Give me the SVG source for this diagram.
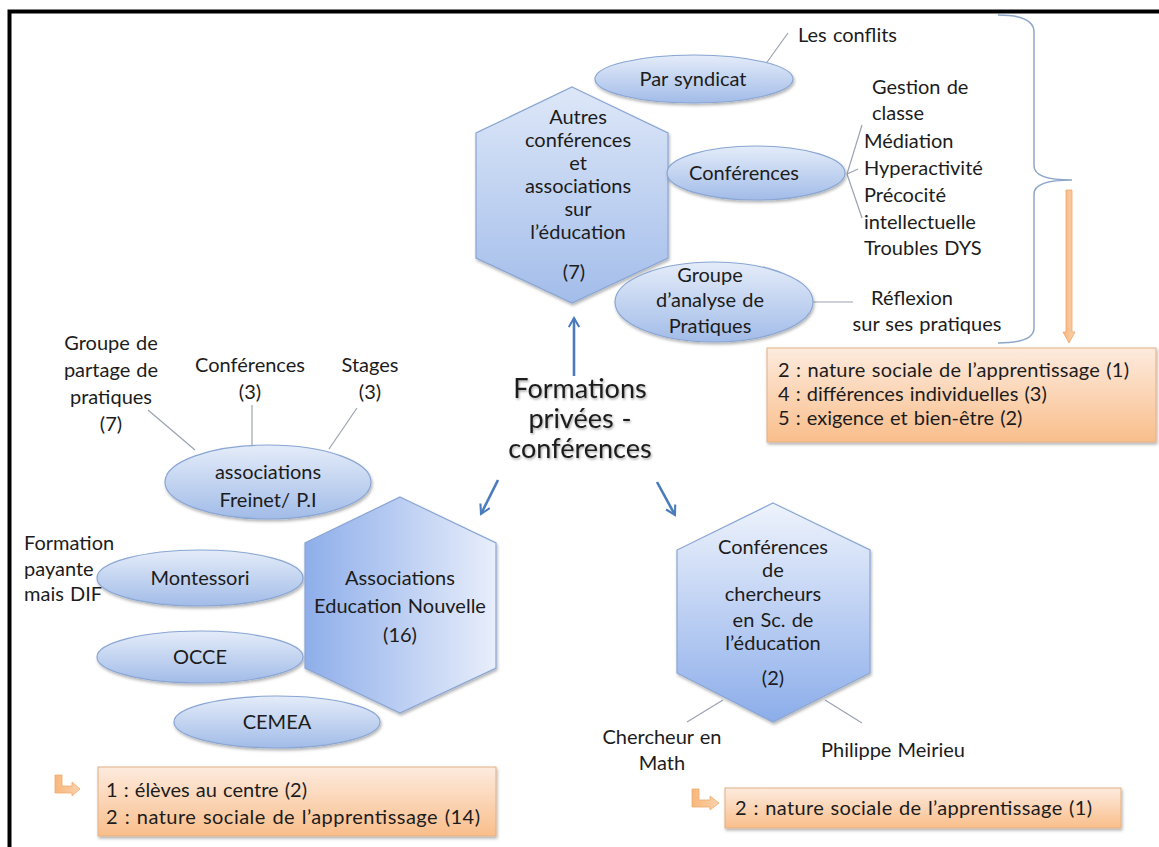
<svg xmlns="http://www.w3.org/2000/svg" width="1159" height="847" viewBox="0 0 1159 847">
<defs>
<linearGradient id="gEll" x1="0" y1="0" x2="0" y2="1">
<stop offset="0" stop-color="#e4ecf9"/><stop offset="1" stop-color="#a2bce8"/>
</linearGradient>
<linearGradient id="gHexV" x1="0" y1="0" x2="0" y2="1">
<stop offset="0" stop-color="#dde7f8"/><stop offset="1" stop-color="#a3bdea"/>
</linearGradient>
<linearGradient id="gHex3" x1="0" y1="0" x2="0" y2="1">
<stop offset="0" stop-color="#eef3fc"/><stop offset="1" stop-color="#8cadea"/>
</linearGradient>
<linearGradient id="gHexH" x1="0" y1="0" x2="1" y2="0">
<stop offset="0" stop-color="#8eaeea"/><stop offset="1" stop-color="#e8eefb"/>
</linearGradient>
<linearGradient id="gOr" x1="0" y1="0" x2="0" y2="1">
<stop offset="0" stop-color="#fdebde"/><stop offset="1" stop-color="#f9be8b"/>
</linearGradient>
<linearGradient id="gOrA" x1="0" y1="0" x2="1" y2="0">
<stop offset="0" stop-color="#f7b77c"/><stop offset="1" stop-color="#fbd2ac"/>
</linearGradient>
<filter id="sh" x="-10%" y="-10%" width="125%" height="130%">
<feDropShadow dx="1" dy="2" stdDeviation="1.5" flood-color="#000" flood-opacity="0.3"/>
</filter>
<filter id="tsh" x="-10%" y="-10%" width="120%" height="130%">
<feDropShadow dx="1" dy="1.5" stdDeviation="1" flood-color="#000" flood-opacity="0.35"/>
</filter>
<marker id="ah" viewBox="0 0 10 10" refX="8" refY="5" markerWidth="5" markerHeight="5" orient="auto" markerUnits="strokeWidth">
<path d="M1,1 L8,5 L1,9" fill="none" stroke="#4a7cbc" stroke-width="1.6"/>
</marker>
<style>
text{font-family:Lato,"Liberation Sans",sans-serif;font-size:20px;fill:#1c1c1c;word-spacing:1px}
.c{text-anchor:middle}
.big{font-size:27px}
.ell{fill:url(#gEll);stroke:#8aa6d4;stroke-width:1.2;filter:url(#sh)}
.hex{stroke:#8aa6d4;stroke-width:1.2;filter:url(#sh)}
.ln{stroke:#9aa3b3;stroke-width:1.2;fill:none}
.arr{stroke:#4a7cbc;stroke-width:2.6;fill:none;marker-end:url(#ah)}
.ob{fill:url(#gOr);stroke:#e2b083;stroke-width:1;filter:url(#sh)}
.oa{fill:url(#gOrA);stroke:#f0aa6c;stroke-width:0.8}
</style>
</defs>
<rect width="1159" height="847" fill="#ffffff"/>
<rect x="9.5" y="11.5" width="1200" height="900" fill="none" stroke="#000" stroke-width="4"/>

<g id="connectors">
<line class="ln" x1="765" y1="65" x2="788" y2="33"/>
<line class="ln" x1="847" y1="174" x2="862" y2="125"/>
<line class="ln" x1="847" y1="174" x2="858" y2="169"/>
<line class="ln" x1="847" y1="174" x2="862" y2="218"/>
<line class="ln" x1="813" y1="302" x2="853" y2="302"/>
<line class="ln" x1="148" y1="410" x2="195" y2="450"/>
<line class="ln" x1="252" y1="405" x2="252" y2="447"/>
<line class="ln" x1="357" y1="408" x2="329" y2="449"/>
<line class="ln" x1="723" y1="700" x2="687" y2="722"/>
<line class="ln" x1="825" y1="700" x2="862" y2="723"/>
<line class="arr" x1="574" y1="376" x2="574" y2="318"/>
<line class="arr" x1="498" y1="480" x2="481" y2="514"/>
<line class="arr" x1="657" y1="482" x2="675" y2="515"/>
<path d="M998,15 Q1034,15 1034,32 L1034,166 Q1034,180 1072,180 Q1034,180 1034,194 L1034,328 Q1034,343 998,343" fill="none" stroke="#8ea6c9" stroke-width="1.5"/>
<path d="M1066,190 L1072,190 L1072,332 L1075,332 L1069,343 L1063,332 L1066,332 Z" fill="url(#gOrA)" stroke="#eea56a" stroke-width="0.8"/>
</g>

<g id="n-autres">
<polygon class="hex" fill="url(#gHexV)" points="572,87 668,133 668,258 572,303 476,258 476,133"/>
<text class="c" x="578" y="124">Autres</text>
<text class="c" x="578" y="147">conférences</text>
<text class="c" x="578" y="170">et</text>
<text class="c" x="578" y="193">associations</text>
<text class="c" x="578" y="216">sur</text>
<text class="c" x="578" y="239">l’éducation</text>
<text class="c" x="574" y="279">(7)</text>
</g>

<g id="n-syndicat">
<ellipse class="ell" cx="694" cy="79" rx="99" ry="24"/>
<text class="c" x="693" y="86">Par syndicat</text>
</g>
<g id="n-conflits"><text x="798" y="42">Les conflits</text></g>

<g id="n-conferences">
<ellipse class="ell" cx="756" cy="173" rx="89" ry="27"/>
<text class="c" x="744" y="180">Conférences</text>
</g>
<g id="n-themes">
<text x="872" y="94">Gestion de</text>
<text x="872" y="120">classe</text>
<text x="864" y="148">Médiation</text>
<text x="864" y="175">Hyperactivité</text>
<text x="864" y="202">Précocité</text>
<text x="864" y="229">intellectuelle</text>
<text x="864" y="255">Troubles DYS</text>
</g>

<g id="n-groupe">
<ellipse class="ell" cx="714" cy="302" rx="99" ry="40"/>
<text class="c" x="710" y="282">Groupe</text>
<text class="c" x="710" y="307">d’analyse de</text>
<text class="c" x="710" y="333">Pratiques</text>
</g>
<g id="n-reflexion">
<text class="c" x="912" y="305">Réflexion</text>
<text class="c" x="927" y="331">sur ses pratiques</text>
</g>

<g id="n-res-top">
<rect class="ob" x="767" y="348" width="389" height="94"/>
<text x="778" y="377" textLength="351" lengthAdjust="spacing">2 : nature sociale de l’apprentissage (1)</text>
<text x="778" y="401">4 : différences individuelles (3)</text>
<text x="778" y="425">5 : exigence et bien-être (2)</text>
</g>

<g id="n-center" filter="url(#tsh)">
<text class="c big" x="580" y="398">Formations</text>
<text class="c big" x="580" y="428">privées -</text>
<text class="c big" x="580" y="458">conférences</text>
</g>

<g id="n-freinet-subs">
<text class="c" x="111" y="350">Groupe de</text>
<text class="c" x="111" y="377">partage de</text>
<text class="c" x="111" y="404">pratiques</text>
<text class="c" x="111" y="431">(7)</text>
<text class="c" x="250" y="372">Conférences</text>
<text class="c" x="250" y="399">(3)</text>
<text class="c" x="370" y="372">Stages</text>
<text class="c" x="370" y="399">(3)</text>
</g>

<g id="n-freinet">
<ellipse class="ell" cx="268" cy="482" rx="103" ry="37"/>
<text class="c" x="268" y="479">associations</text>
<text class="c" x="268" y="507">Freinet/ P.I</text>
</g>

<g id="n-formation-payante">
<text x="24" y="550">Formation</text>
<text x="24" y="576">payante</text>
<text x="24" y="601">mais DIF</text>
</g>

<g id="n-montessori">
<ellipse class="ell" cx="200" cy="578" rx="103" ry="28"/>
<text class="c" x="200" y="585">Montessori</text>
</g>
<g id="n-occe">
<ellipse class="ell" cx="200" cy="657" rx="103" ry="26"/>
<text class="c" x="200" y="664">OCCE</text>
</g>
<g id="n-cemea">
<ellipse class="ell" cx="277" cy="722" rx="103" ry="26"/>
<text class="c" x="277" y="729">CEMEA</text>
</g>

<g id="n-education-nouvelle">
<polygon class="hex" fill="url(#gHexH)" points="400,497 496,543 496,668 400,713 305,668 305,543"/>
<text class="c" x="400" y="585">Associations</text>
<text class="c" x="400" y="613">Education Nouvelle</text>
<text class="c" x="400" y="642">(16)</text>
</g>

<g id="n-res-left">
<polygon class="oa" points="55,775 62,775 62,786 72,786 72,782 80,789 72,796 72,793 55,793"/>
<rect class="ob" x="98" y="767" width="398" height="69"/>
<text x="106" y="797">1 : élèves au centre (2)</text>
<text x="106" y="824" textLength="374" lengthAdjust="spacing">2 : nature sociale de l’apprentissage (14)</text>
</g>

<g id="n-chercheurs">
<polygon class="hex" fill="url(#gHex3)" points="773,503 870,550 870,673 773,722 677,673 677,550"/>
<text class="c" x="773" y="554">Conférences</text>
<text class="c" x="773" y="577">de</text>
<text class="c" x="773" y="601">chercheurs</text>
<text class="c" x="773" y="627">en Sc. de</text>
<text class="c" x="773" y="650">l’éducation</text>
<text class="c" x="773" y="685">(2)</text>
</g>
<g id="n-math">
<text class="c" x="662" y="744">Chercheur en</text>
<text class="c" x="662" y="770">Math</text>
</g>
<g id="n-meirieu"><text class="c" x="893" y="757">Philippe Meirieu</text></g>

<g id="n-res-right">
<polygon class="oa" points="692,789 699,789 699,800 710,800 710,796 719,803 710,810 710,807 692,807"/>
<rect class="ob" x="725" y="788" width="396" height="40"/>
<text x="735" y="815" textLength="357" lengthAdjust="spacing">2 : nature sociale de l’apprentissage (1)</text>
</g>
</svg>
